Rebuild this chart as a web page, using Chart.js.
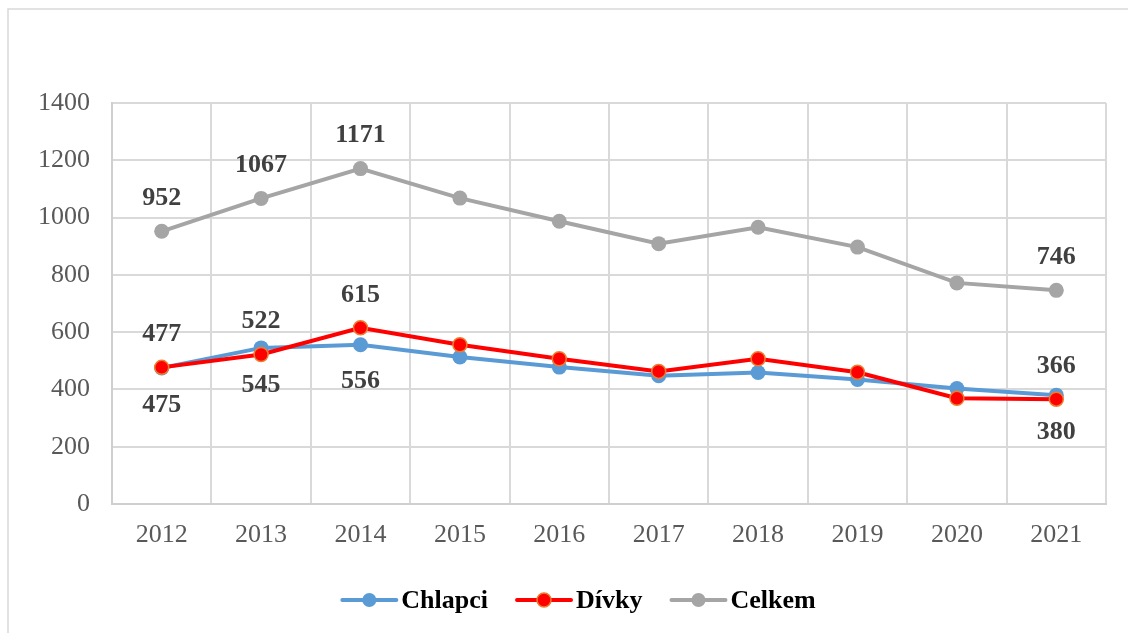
<!DOCTYPE html>
<html><head><meta charset="utf-8">
<script src="https://cdn.jsdelivr.net/npm/chart.js@4/dist/chart.umd.min.js"></script>
<style>html,body{margin:0;padding:0;background:#fff}#wrap{width:1128px;height:633px;position:relative}</style>
</head><body><div id="wrap"><canvas id="c" width="1128" height="633"></canvas></div>
<script>
// ---- data ----
const years = ['2012','2013','2014','2015','2016','2017','2018','2019','2020','2021'];
const chlapci = [475, 545, 556, 513, 478, 448, 459, 435, 403, 380];
const divky   = [477, 522, 615, 556, 507, 463, 507, 460, 369, 366];
const celkem  = [952, 1067, 1171, 1068, 987, 909, 966, 897, 772, 746];
const yTickValues = [0, 200, 400, 600, 800, 1000, 1200, 1400];
const labeledIndices = [0, 1, 2, 9];
const seriesNames = ['Chlapci', 'Dívky', 'Celkem'];

const SERIF = '"Liberation Serif", "Times New Roman", serif';
const GRID = '#d9d9d9';

const frame = {
  id: 'frame',
  beforeDraw(chart) {
    const ctx = chart.ctx;
    ctx.save();
    ctx.fillStyle = '#fff';
    ctx.fillRect(0, 0, chart.width, chart.height);
    ctx.strokeStyle = GRID;
    ctx.lineWidth = 1.5;
    ctx.beginPath();
    ctx.moveTo(8, chart.height);
    ctx.lineTo(8, 9);
    ctx.lineTo(chart.width, 9);
    ctx.stroke();
    ctx.restore();
  }
};

const dataLabels = {
  id: 'dataLabels',
  afterDatasetsDraw(chart) {
    const ctx = chart.ctx;
    ctx.save();
    ctx.font = 'bold 26px ' + SERIF;
    ctx.fillStyle = '#404040';
    ctx.textAlign = 'center';
    ctx.textBaseline = 'middle';
    chart.data.datasets.forEach((ds, di) => {
      const meta = chart.getDatasetMeta(di);
      labeledIndices.forEach(i => {
        const pt = meta.data[i];
        const dy = ds.labelPos === 'below' ? 37 : -33;
        ctx.fillText(String(ds.data[i]), pt.x, pt.y + dy);
      });
    });
    ctx.restore();
  }
};

const legendPlugin = {
  id: 'customLegend',
  afterDraw(chart) {
    const ctx = chart.ctx;
    ctx.save();
    ctx.font = 'bold 26px ' + SERIF;
    const lineW = 54, gapText = 5, gapItem = 29;
    const items = chart.data.datasets.slice().sort((a, b) => a.legendIndex - b.legendIndex);
    let total = 0;
    items.forEach((ds, k) => {
      total += lineW + gapText + ctx.measureText(ds.label).width;
      if (k < items.length - 1) total += gapItem;
    });
    const cx = 579, cy = 600;
    let x = cx - total / 2;
    items.forEach(ds => {
      ctx.strokeStyle = ds.borderColor;
      ctx.lineWidth = 4;
      ctx.lineCap = 'round';
      ctx.beginPath();
      ctx.moveTo(x, cy);
      ctx.lineTo(x + lineW, cy);
      ctx.stroke();
      ctx.beginPath();
      ctx.arc(x + lineW / 2, cy, 7, 0, Math.PI * 2);
      ctx.fillStyle = ds.pointBackgroundColor;
      ctx.fill();
      if (ds.pointBorderWidth) {
        ctx.lineWidth = ds.pointBorderWidth;
        ctx.strokeStyle = ds.pointBorderColor;
        ctx.stroke();
      }
      x += lineW + gapText;
      ctx.fillStyle = '#000';
      ctx.textAlign = 'left';
      ctx.textBaseline = 'middle';
      ctx.fillText(ds.label, x, cy + 1);
      x += ctx.measureText(ds.label).width + gapItem;
    });
    ctx.restore();
  }
};

new Chart(document.getElementById('c'), {
  type: 'line',
  data: {
    labels: years,
    datasets: [
      { label: seriesNames[0], data: chlapci, borderColor: '#5b9bd5', backgroundColor: '#5b9bd5',
        pointBackgroundColor: '#5b9bd5', pointBorderColor: '#5b9bd5', pointBorderWidth: 0,
        borderWidth: 4, pointRadius: 7.5, order: 1, labelPos: 'below', legendIndex: 0 },
      { label: seriesNames[1], data: divky, borderColor: '#ff0000', backgroundColor: '#ff0000',
        pointBackgroundColor: '#ff0000', pointBorderColor: '#ed7d31', pointBorderWidth: 1.5,
        borderWidth: 4, pointRadius: 7, order: 0, labelPos: 'above', legendIndex: 1 },
      { label: seriesNames[2], data: celkem, borderColor: '#a5a5a5', backgroundColor: '#a5a5a5',
        pointBackgroundColor: '#a5a5a5', pointBorderColor: '#a5a5a5', pointBorderWidth: 0,
        borderWidth: 4, pointRadius: 7.5, order: 2, labelPos: 'above', legendIndex: 2 }
    ]
  },
  options: {
    responsive: false,
    animation: false,
    devicePixelRatio: 1,
    layout: { padding: { top: 103, right: 22, bottom: 69, left: 0 } },
    plugins: { legend: { display: false }, tooltip: { enabled: false } },
    elements: { line: { tension: 0 } },
    scales: {
      x: {
        offset: true,
        grid: { offset: true, color: GRID, lineWidth: 2, drawTicks: false },
        border: { color: '#cfcfcf', width: 2 },
        ticks: { color: '#595959', font: { family: SERIF, size: 26 }, padding: 16, maxRotation: 0 },
        afterFit(s) { s.height = 60; }
      },
      y: {
        min: 0, max: 1400,
        afterBuildTicks(s) { s.ticks = yTickValues.map(v => ({ value: v })); },
        grid: { color: GRID, lineWidth: 2, drawTicks: false },
        border: { color: '#cfcfcf', width: 2 },
        ticks: { color: '#595959', font: { family: SERIF, size: 26 }, padding: 22,
                 callback: v => String(v) },
        afterFit(s) { s.width = 112; }
      }
    }
  },
  plugins: [frame, dataLabels, legendPlugin]
});
</script></body></html>
